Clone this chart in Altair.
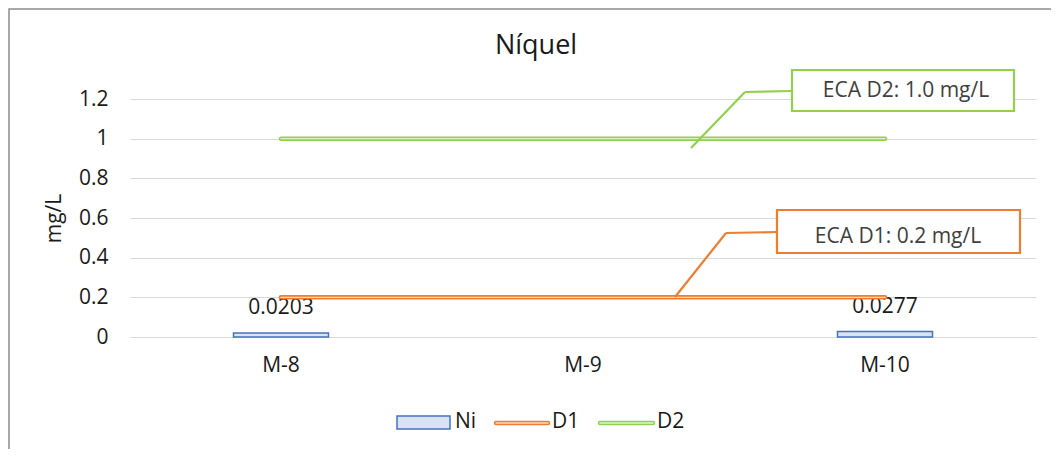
import altair as alt
import pandas as pd

categories = ["M-8", "M-9", "M-10"]
ni_values = [0.0203, None, 0.0277]
d1_values = [0.2, 0.2, 0.2]
d2_values = [1.0, 1.0, 1.0]
y_ticks = [0, 0.2, 0.4, 0.6, 0.8, 1.0, 1.2]

df = pd.DataFrame({"cat": categories, "Ni": ni_values, "D1": d1_values, "D2": d2_values})

FONT = "Open Sans"
ORANGE = "#ed7d31"
GREEN = "#92d050"
BLUE = "#4472c4"
FILL = "#dae3f3"
TXT = "#1a1a1a"
W, H = 906, 238

xaxis = alt.Axis(labelAngle=0, ticks=False, domainColor="#d9d9d9", grid=False,
                 labelFontSize=21, labelFont=FONT, labelColor=TXT, labelPadding=17)
yaxis = alt.Axis(values=y_ticks, labelExpr="format(datum.value, '~g')",
                 labelOverlap=False, labelFlush=False,
                 ticks=False, domain=False, gridColor="#d9d9d9",
                 labelFontSize=21, labelFont=FONT, labelColor=TXT,
                 labelPadding=22, titleFont=FONT, titleFontSize=21,
                 titleFontWeight="normal", titleColor=TXT,
                 titleX=-76, titleY=H / 2, titleAngle=-90,
                 titleAlign="center", titleBaseline="middle")
xscale = alt.Scale(paddingInner=0, paddingOuter=0)
yscale = alt.Scale(domain=[0, 1.2], nice=False)

def X(band=None):
    if band is None:
        return alt.X("cat:N", sort=categories, title=None, scale=xscale, axis=xaxis)
    return alt.X("cat:N", sort=categories, title=None, scale=xscale, axis=xaxis, bandPosition=band)

def Y(field):
    return alt.Y(f"{field}:Q", title="mg/L", scale=yscale, axis=yaxis)

base = alt.Chart(df)

one = pd.DataFrame({"k": [0]})
ann = alt.Chart(one)

border = ann.mark_rect(fill=None, stroke="#8c8c8c", strokeWidth=1.5).encode(
    x=alt.value(-121), x2=alt.value(960), y=alt.value(-90), y2=alt.value(380))

bars = base.mark_bar(width=95, fill=FILL, stroke=BLUE, strokeWidth=1.5).encode(x=X(), y=Y("Ni"))

labels = base.mark_text(dy=-25, fontSize=21, font=FONT, color=TXT, baseline="middle").encode(
    x=X(0.5), y=Y("Ni"), text=alt.Text("Ni:Q", format=".4f"))

def dline(field, color):
    outer = base.mark_line(color=color, strokeWidth=4.5, strokeCap="round").encode(
        x=X(0.5), y=Y(field))
    inner = base.mark_line(color="white", strokeWidth=1.4, strokeCap="round", opacity=0.7).encode(
        x=X(0.5), y=Y(field))
    return outer + inner

def box(x1, x2, y1, y2, color):
    return ann.mark_rect(fill="white", stroke=color, strokeWidth=2.2).encode(
        x=alt.value(x1), x2=alt.value(x2), y=alt.value(y1), y2=alt.value(y2))

def seg(x1, y1, x2, y2, color):
    return ann.mark_rule(color=color, strokeWidth=2.2).encode(
        x=alt.value(x1), y=alt.value(y1), x2=alt.value(x2), y2=alt.value(y2))

def txt(x, y, s, size=21, color="#404040", align="center"):
    return ann.mark_text(text=s, fontSize=size, font=FONT, color=color, align=align,
                         baseline="middle").encode(x=alt.value(x), y=alt.value(y))

callouts = (
    seg(561, 49, 615, -7, GREEN) + seg(615, -7, 662, -8, GREEN)
    + box(662, 884, -29, 12, GREEN) + txt(776, -8, "ECA D2: 1.0 mg/L")
    + seg(545, 198, 596, 134, ORANGE) + seg(596, 134, 647, 133, ORANGE)
    + box(647, 890, 111, 154, ORANGE) + txt(768, 138, "ECA D1: 0.2 mg/L")
)

def lline(x1, x2, y, color):
    return (ann.mark_rule(color=color, strokeWidth=4.5, strokeCap="round").encode(
                x=alt.value(x1), x2=alt.value(x2), y=alt.value(y))
            + ann.mark_rule(color="white", strokeWidth=1.4, strokeCap="round", opacity=0.7).encode(
                x=alt.value(x1), x2=alt.value(x2), y=alt.value(y)))

legend = (
    ann.mark_rect(fill=FILL, stroke=BLUE, strokeWidth=1.5).encode(
        x=alt.value(267), x2=alt.value(320), y=alt.value(317), y2=alt.value(330))
    + txt(325, 323, "Ni", color=TXT, align="left")
    + lline(366, 418, 324, ORANGE) + txt(422, 323, "D1", color=TXT, align="left")
    + lline(470, 523, 324, GREEN) + txt(527, 323, "D2", color=TXT, align="left")
)

title = txt(406, -53, "Níquel", size=27, color=TXT)

chart = alt.layer(
    bars, border, labels, dline("D1", ORANGE), dline("D2", GREEN),
    callouts, legend, title
).properties(
    width=W, height=H,
    autosize=alt.AutoSizeParams(type="none"),
    padding={"left": 122, "top": 91, "right": 15, "bottom": 112},
).configure_view(stroke=None).configure_axis(
    labelFontSize=21, labelFont=FONT, labelColor=TXT, labelOverlap=False
)

chart.save("out.html", embed_options={"renderer": "svg", "actions": False})
